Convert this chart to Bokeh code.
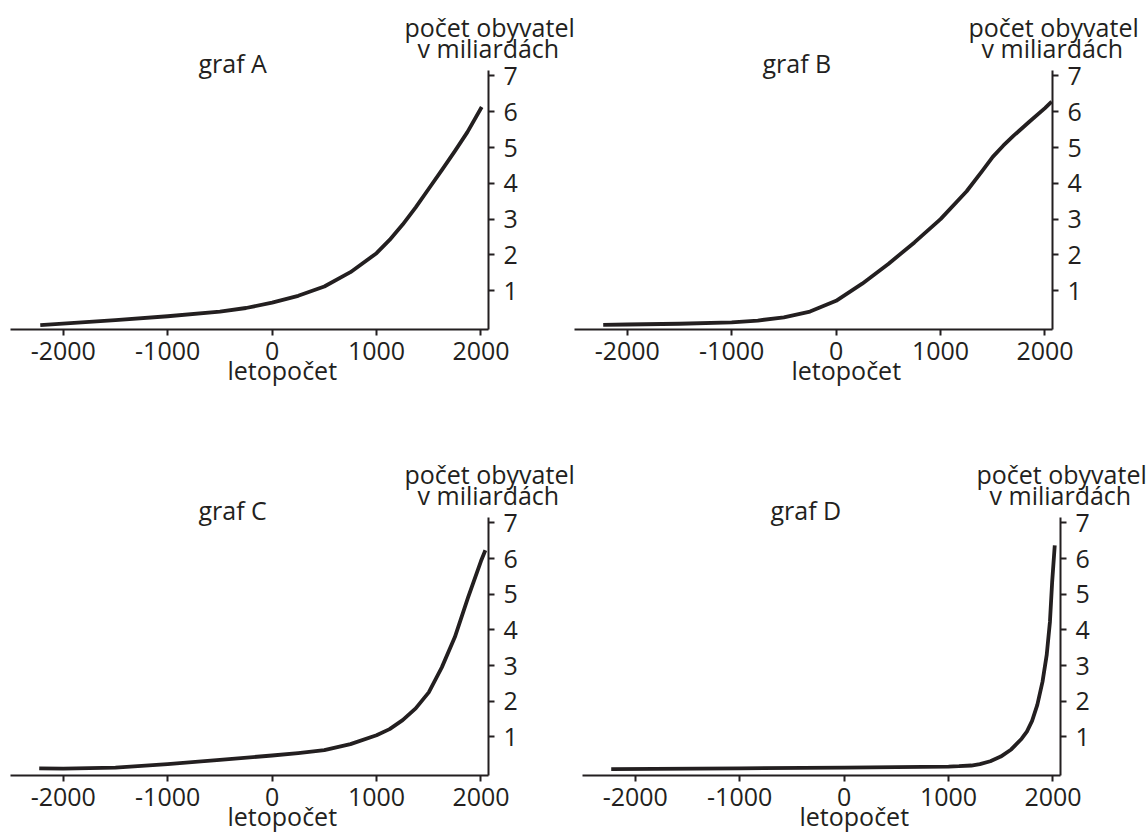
from bokeh.plotting import figure
from bokeh.layouts import column, row
from bokeh.models import FixedTicker, Title
from bokeh.embed import file_html
from bokeh.resources import INLINE

# ---------------- data ----------------
x_ticks = [-2000, -1000, 0, 1000, 2000]
x_tick_labels = ["-2000", "-1000", "0", "1000", "2000"]
y_ticks = [1, 2, 3, 4, 5, 6, 7]

titles = ["graf A", "graf B", "graf C", "graf D"]
x_axis_title = "letopočet"
y_axis_title_1 = "počet obyvatel"
y_axis_title_2 = "v miliardách"

years_a = [-2220, -1500, -1000, -500, -250, 0, 250, 500, 750, 1000, 1125, 1250, 1375, 1500, 1625, 1750, 1870, 2007]
pop_a = [0.04, 0.18, 0.29, 0.42, 0.52, 0.67, 0.86, 1.12, 1.52, 2.05, 2.42, 2.85, 3.33, 3.85, 4.37, 4.90, 5.43, 6.13]

years_b = [-2230, -2000, -1500, -1000, -750, -500, -250, 0, 250, 500, 750, 1000, 1250, 1400, 1500, 1600, 1700, 1850, 2000, 2064]
pop_b = [0.05, 0.06, 0.08, 0.12, 0.17, 0.26, 0.42, 0.72, 1.20, 1.75, 2.35, 3.00, 3.78, 4.35, 4.74, 5.05, 5.33, 5.72, 6.10, 6.28]

years_c = [-2230, -2000, -1500, -1000, -500, 0, 250, 500, 750, 1000, 1125, 1250, 1375, 1500, 1625, 1750, 1875, 2000, 2042]
pop_c = [0.12, 0.11, 0.14, 0.24, 0.36, 0.48, 0.55, 0.63, 0.80, 1.05, 1.22, 1.47, 1.80, 2.25, 2.95, 3.80, 4.90, 5.93, 6.23]

years_d = [-2230, -1000, 0, 1000, 1100, 1218, 1300, 1400, 1500, 1600, 1700, 1750, 1800, 1850, 1900, 1940, 1971, 1992, 2017]
pop_d = [0.10, 0.12, 0.14, 0.17, 0.18, 0.20, 0.24, 0.32, 0.45, 0.65, 0.95, 1.15, 1.45, 1.90, 2.55, 3.30, 4.23, 5.34, 6.37]

# ---------------- style ----------------
INK = "#231f20"
FONT = "Open Sans"
FS = "25px"
X_START, X_END = -2505, 2072
Y_START, Y_END = -0.08, 7.15


def title(text, offset, valign, standoff):
    return Title(text=text, align="left", offset=offset, vertical_align=valign,
                 standoff=standoff, text_font=FONT, text_font_size=FS,
                 text_font_style="normal", text_color=INK)


def make_panel(years, pops, name, width, height, left, right, top, bottom):
    p = figure(width=width, height=height,
               x_range=(X_START, X_END), y_range=(Y_START, Y_END),
               y_axis_location="right", toolbar_location=None,
               output_backend="svg",
               min_border_left=left, min_border_right=right,
               min_border_top=top, min_border_bottom=bottom)
    p.outline_line_color = None
    p.background_fill_color = "white"
    p.border_fill_color = "white"
    p.xgrid.visible = False
    p.ygrid.visible = False

    for ax, ticks, standoff in ((p.xaxis[0], x_ticks, 6), (p.yaxis[0], y_ticks, 9)):
        ax.ticker = FixedTicker(ticks=ticks)
        ax.axis_line_color = INK
        ax.axis_line_width = 2
        ax.major_tick_line_color = INK
        ax.major_tick_line_width = 2
        ax.major_tick_out = 6
        ax.major_tick_in = 0
        ax.minor_tick_line_color = None
        ax.major_label_text_font = FONT
        ax.major_label_text_font_size = FS
        ax.major_label_text_color = INK
        ax.major_label_standoff = standoff
    p.xaxis[0].major_label_overrides = dict(zip(x_ticks, x_tick_labels))

    p.line(years, pops, line_color=INK, line_width=3.8, line_join="round")

    # texts above the frame (first added = nearest to the frame)
    p.add_layout(title(name, 188, "bottom", -18), "above")
    p.add_layout(title(y_axis_title_2, 407, "bottom", -25), "above")
    p.add_layout(title(y_axis_title_1, 394, "bottom", -5), "above")
    # text below the x axis
    p.add_layout(title(x_axis_title, 217, "top", -20), "below")
    return p


pa = make_panel(years_a, pop_a, titles[0], 574, 418, 10, 86, 70, 89)
pb = make_panel(years_b, pop_b, titles[1], 572, 418, 0, 94, 70, 89)
pc = make_panel(years_c, pop_c, titles[2], 574, 416, 10, 86, 99, 59)
pd = make_panel(years_d, pop_d, titles[3], 572, 416, 8, 86, 99, 59)

layout = column(row(pa, pb), row(pc, pd))

open("out.html", "w").write(file_html(layout, INLINE))
